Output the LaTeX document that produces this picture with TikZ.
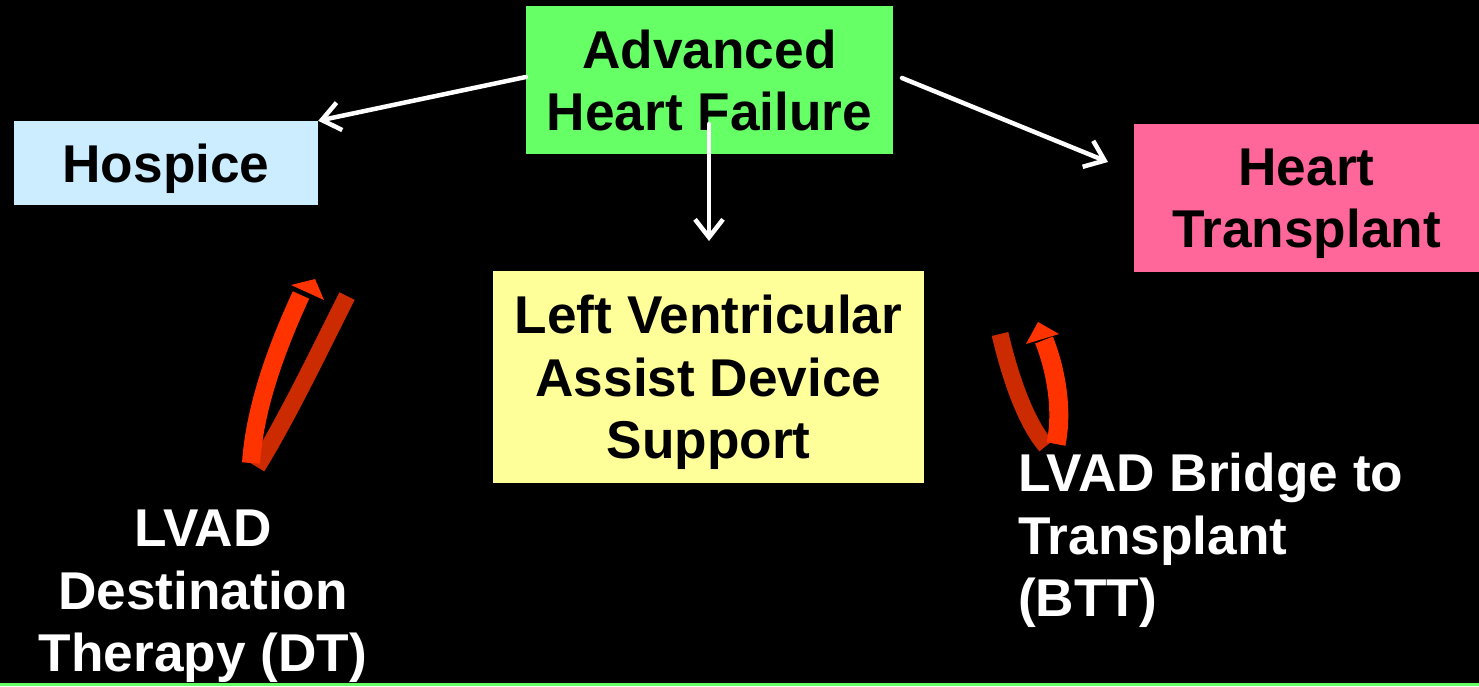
\documentclass[tikz,border=0pt]{standalone}
\usepackage{fontspec}
\setmainfont{Liberation Sans}
\usetikzlibrary{arrows.meta}
\definecolor{hfgreen}{HTML}{66FF66}
\definecolor{hospblue}{HTML}{CCECFF}
\definecolor{htpink}{HTML}{FF6699}
\definecolor{lvadyellow}{HTML}{FFFF99}
\definecolor{ribbonbright}{HTML}{FF3300}
\definecolor{ribbondark}{HTML}{CC2A00}
\tikzset{
  txt/.style={font=\fontsize{53.2}{62.5}\selectfont\bfseries, inner sep=0pt, text depth=0pt},
  box/.style={txt, align=center, text=black},
  label/.style={txt, text=white},
  flow/.style={draw=white, line width=4.5pt, line cap=round,
    -{Straight Barb[length=18pt, width=28pt, line width=4.5pt]}},
}
\begin{document}
\begin{tikzpicture}[x=1pt, y=-1pt]
  % canvas
  \fill[black] (0,0) rectangle (1479,686);
  \useasboundingbox (0,0) rectangle (1479,686);
  \draw[hfgreen, line width=3pt] (0,684.5) -- (1479,684.5);

  % boxes
  \node[box, fill=hfgreen, minimum width=367pt, minimum height=148pt] (hf)
    at (709.5,80) {Advanced\\Heart Failure};
  \node[box, fill=hospblue, minimum width=304pt, minimum height=84pt] (hosp)
    at (166,163) {Hospice};
  \node[box, fill=htpink, minimum width=345pt, minimum height=148pt] (ht)
    at (1306.5,198) {Heart\\Transplant};
  \node[box, fill=lvadyellow, minimum width=431pt, minimum height=212pt] (lvad)
    at (708.5,377) {Left Ventricular\\Assist Device\\Support};

  % free labels
  \node[label, align=center, anchor=south] (dt) at (203,672)
    {LVAD\\Destination\\Therapy (DT)};
  \node[label, align=left, anchor=south west] (btt) at (1018,617)
    {LVAD Bridge to\\Transplant\\(BTT)};

  % connectors from the main box
  \coordinate (hfL) at ([yshift=3pt]hf.west);
  \coordinate (hfR) at (902,78);
  \coordinate (htIn) at (1108,162);
  \coordinate (hfD) at (709,124);
  \coordinate (lvadIn) at (709,241);
  \draw[flow] (hfL) -- (hosp.north east);
  \draw[flow] (hfR) -- (htIn);
  \draw[flow] (hfD) -- (lvadIn);

  % U-turn ribbon arrow towards Hospice
  \draw[ribbondark, line width=17pt]
    (347,296) .. controls (319,352) and (286,420) .. (257,467);
  \draw[ribbonbright, line width=18pt]
    (251,463) .. controls (255,405) and (278,345) .. (301,295);
  \fill[ribbonbright] (315,279) -- (291,285) -- (324,300) -- cycle;

  % U-turn ribbon arrow towards Heart Transplant
  \draw[ribbondark, line width=17pt]
    (1000,334) .. controls (1012,385) and (1028,425) .. (1046,446);
  \draw[ribbonbright, line width=19pt]
    (1056,444) .. controls (1063,410) and (1056,370) .. (1044,340);
  \fill[ribbonbright] (1038,322) -- (1026,344) -- (1059,334) -- cycle;
\end{tikzpicture}
\end{document}
